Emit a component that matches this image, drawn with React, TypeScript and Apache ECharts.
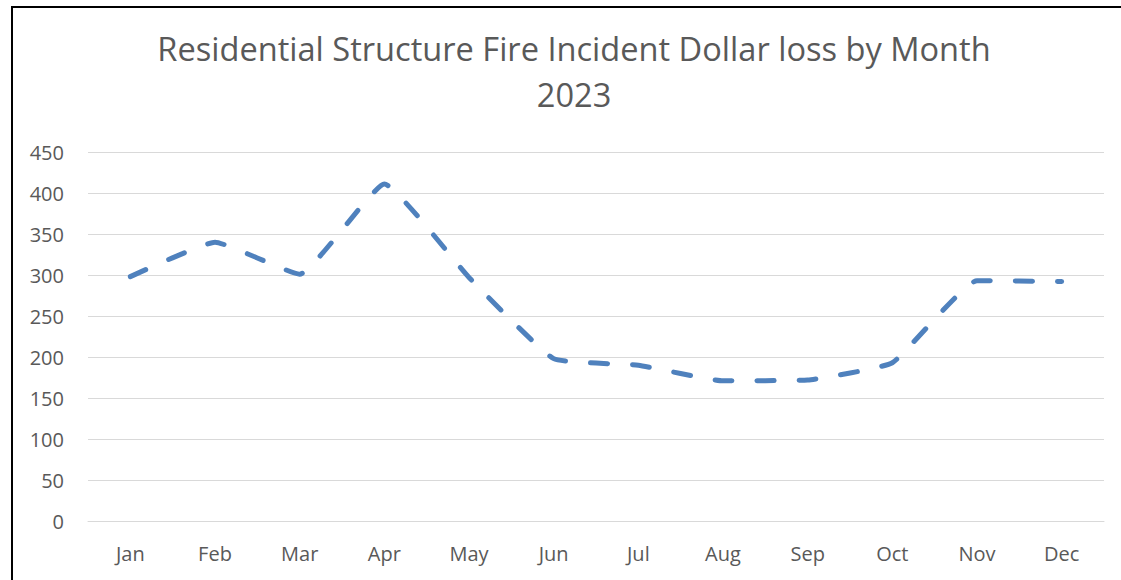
import React, { useEffect, useRef } from "react";
import * as echarts from "echarts";

const months = ["Jan", "Feb", "Mar", "Apr", "May", "Jun", "Jul", "Aug", "Sep", "Oct", "Nov", "Dec"];
const dollarLoss = [298, 340, 301, 411, 297, 198, 190, 171, 172, 193, 293, 292];
const titleLines = ["Residential Structure Fire Incident Dollar loss by Month", "2023"];
const yMin = 0;
const yMax = 450;
const yStep = 50;

const FONT = "'Open Sans', 'Noto Sans', sans-serif";

export default function App() {
  const ref = useRef<HTMLDivElement>(null);
  useEffect(() => {
    document.body.style.margin = "0";
    const chart = echarts.init(ref.current!, null, { renderer: "svg" });
    chart.setOption({
      animation: false,
      backgroundColor: "#ffffff",
      title: {
        text: titleLines.join("\n"),
        left: 569,
        top: 21,
        textAlign: "center",
        textStyle: {
          fontFamily: FONT,
          fontSize: 32.6,
          lineHeight: 45.5,
          fontWeight: "normal",
          color: "#595959",
        },
      },
      graphic: [
        { type: "line", shape: { x1: 12, y1: 7, x2: 12, y2: 600 }, style: { stroke: "#000", lineWidth: 2 } },
        { type: "line", shape: { x1: 11, y1: 7, x2: 1130, y2: 7 }, style: { stroke: "#000", lineWidth: 2 } },
      ],
      grid: { left: 88, right: 17, top: 152, bottom: 59, containLabel: false },
      xAxis: {
        type: "category",
        data: months,
        boundaryGap: true,
        axisLine: { show: true, lineStyle: { color: "#d9d9d9", width: 1 } },
        axisTick: { show: false },
        axisLabel: { color: "#595959", fontSize: 20, fontFamily: FONT, margin: 22 },
      },
      yAxis: {
        type: "value",
        min: yMin,
        max: yMax,
        interval: yStep,
        axisLine: { show: false },
        axisTick: { show: false },
        splitLine: { lineStyle: { color: "#d9d9d9", width: 1 } },
        axisLabel: { color: "#595959", fontSize: 20, fontFamily: FONT, margin: 24 },
      },
      series: [
        {
          type: "line",
          data: dollarLoss,
          smooth: 0.12,
          symbol: "none",
          lineStyle: { color: "#4f81bd", width: 5, type: [17, 25], cap: "round", join: "round" },
        },
      ],
    });
    return () => chart.dispose();
  }, []);
  return <div ref={ref} style={{ width: 1121, height: 580 }} />;
}
